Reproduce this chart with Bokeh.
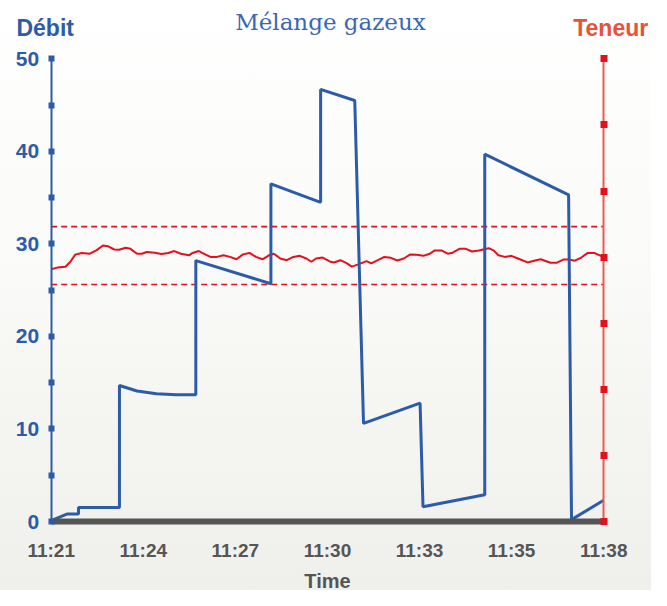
from bokeh.plotting import figure
from bokeh.models import (Range1d, LinearAxis, FixedTicker, Label,
                          CustomJSTickFormatter)
from bokeh.embed import file_html
from bokeh.resources import INLINE

# ---------------- data ----------------
tick_labels = ["11:21", "11:24", "11:27", "11:30", "11:33", "11:35", "11:38"]

# minutes since 11:21 and flow rate (Débit, left axis)
time_debit = [0, 0.48, 0.84, 0.84, 2.10, 2.10, 2.64, 3.24, 3.84, 4.45, 4.45,
              6.76, 6.76, 8.29, 8.29, 9.34, 9.61, 11.35, 11.44, 13.34, 13.34,
              15.92, 16.01, 17.0]
debit = [0.1, 0.8, 0.8, 1.5, 1.5, 14.7, 14.1, 13.8, 13.7, 13.7, 28.2,
         25.7, 36.5, 34.5, 46.7, 45.5, 10.6, 12.8, 1.6, 2.9, 39.7,
         35.3, 0.2, 2.3]

# minutes since 11:21 and content (Teneur, right axis)
time_teneur = [0, 0.19, 0.44, 0.59, 0.74, 0.94, 1.19, 1.39, 1.59, 1.74, 1.94,
               2.09, 2.29, 2.44, 2.64, 2.79, 2.94, 3.19, 3.39, 3.60, 3.79, 3.99,
               4.24, 4.35, 4.54, 4.75, 4.90, 5.10, 5.30, 5.50, 5.70, 5.90, 6.10,
               6.30, 6.50, 6.70, 6.85, 7.05, 7.25, 7.45, 7.65, 7.85, 8.00, 8.15,
               8.35, 8.60, 8.70, 8.90, 9.10, 9.25, 9.45, 9.70, 9.85, 10.05, 10.25,
               10.45, 10.65, 10.85, 11.05, 11.25, 11.45, 11.65, 11.80, 12.01,
               12.20, 12.35, 12.56, 12.76, 12.95, 13.16, 13.46, 13.61, 13.76,
               13.96, 14.16, 14.36, 14.66, 14.86, 15.06, 15.36, 15.56, 15.76,
               15.91, 16.11, 16.31, 16.51, 16.71, 16.91, 17.0]
teneur = [19.08, 19.21, 19.28, 19.65, 20.19, 20.32, 20.26, 20.51, 20.88, 20.83,
          20.58, 20.56, 20.71, 20.63, 20.26, 20.26, 20.39, 20.34, 20.24, 20.32,
          20.46, 20.26, 20.14, 20.32, 20.46, 20.19, 20.02, 20.02, 20.14, 20.02,
          19.84, 20.21, 20.32, 20.02, 19.84, 20.14, 20.26, 19.90, 19.77, 20.02,
          20.10, 19.90, 19.65, 19.90, 19.97, 19.65, 19.60, 19.77, 19.53, 19.28,
          19.45, 19.70, 19.53, 19.77, 20.02, 19.95, 19.75, 19.90, 20.21, 20.19,
          20.10, 20.26, 20.51, 20.51, 20.26, 20.34, 20.63, 20.63, 20.43, 20.51,
          20.68, 20.51, 20.14, 20.02, 20.10, 19.90, 19.60, 19.73, 19.84, 19.58,
          19.58, 19.82, 19.82, 19.73, 19.97, 20.32, 20.32, 20.10, 20.10]

teneur_limits = [22.31, 17.93]
debit_ticks = [0, 10, 20, 30, 40, 50]
debit_minor = [5, 15, 25, 35, 45]
teneur_ticks = [0, 5, 10, 15, 20, 25, 30, 35]

BLUE = "#2c5ca8"
RED = "#e3101e"
GREY = "#555555"

T0, T1 = time_debit[0], time_debit[-1]
D0, D1 = debit_ticks[0], debit_ticks[-1]
R0, R1 = teneur_ticks[0], teneur_ticks[-1]

# frame fills the whole canvas; axes are pinned inside it
W, H = 651, 590
left_px, right_px, top_px, bottom_px = 50.7, 603.2, 58.4, 521.0
xs = (right_px - left_px) / (T1 - T0)
ys = (bottom_px - top_px) / (D1 - D0)
rs = (bottom_px - top_px) / (R1 - R0)

p = figure(width=W, height=H, output_backend="svg", toolbar_location=None,
           title_location=None, x_axis_location=None, y_axis_location=None,
           x_range=Range1d(T0 - left_px / xs, T1 + (W - right_px) / xs),
           y_range=Range1d(D0 - (H - bottom_px) / ys, D1 + top_px / ys),
           min_border=0, min_border_left=0, min_border_right=0,
           min_border_top=0, min_border_bottom=0)
p.styles = {"background-image": "linear-gradient(to bottom, #ffffff 0%, #fafaf8 45%, #efefeb 100%)"}
p.border_fill_color = None
p.background_fill_color = None
p.outline_line_color = None
p.xgrid.visible = False
p.ygrid.visible = False
p.extra_y_ranges = {"right": Range1d(R0 - (H - bottom_px) / rs, R1 + top_px / rs)}

# x axis
n = len(tick_labels) - 1
xa = LinearAxis(fixed_location=D0, bounds=(T0, T1),
                ticker=FixedTicker(ticks=[T0 + (T1 - T0) * i / n for i in range(n + 1)]),
                formatter=CustomJSTickFormatter(
                    args=dict(labels=tick_labels, n=n, t0=T0, t1=T1),
                    code="return labels[Math.round((tick - t0) * n / (t1 - t0))]"))
xa.axis_line_color = GREY
xa.axis_line_width = 6
xa.major_tick_line_color = None
xa.minor_tick_line_color = None
xa.major_tick_out = 0
xa.major_tick_in = 0
xa.major_label_standoff = 18
xa.major_label_text_font = "Liberation Sans"
xa.major_label_text_font_style = "bold"
xa.major_label_text_font_size = "19px"
xa.major_label_text_color = GREY
xa.axis_label = "Time"
xa.axis_label_text_font = "Liberation Sans"
xa.axis_label_text_font_style = "bold"
xa.axis_label_text_font_size = "20px"
xa.axis_label_text_color = GREY
xa.axis_label_standoff = 6
p.add_layout(xa, "below")

# left axis
ya = LinearAxis(fixed_location=T0, bounds=(D0, D1),
                ticker=FixedTicker(ticks=debit_ticks, minor_ticks=debit_minor))
ya.axis_line_color = BLUE
ya.axis_line_width = 2
ya.major_tick_line_color = BLUE
ya.major_tick_line_width = 6
ya.major_tick_in = 3
ya.major_tick_out = 3
ya.minor_tick_line_color = BLUE
ya.minor_tick_line_width = 6
ya.minor_tick_in = 3
ya.minor_tick_out = 3
ya.major_label_standoff = 9
ya.major_label_text_font = "Liberation Sans"
ya.major_label_text_font_style = "bold"
ya.major_label_text_font_size = "21px"
ya.major_label_text_color = BLUE
p.add_layout(ya, "left")

# right axis
ra = LinearAxis(y_range_name="right", fixed_location=T1, bounds=(R0, R1),
                ticker=FixedTicker(ticks=teneur_ticks, minor_ticks=[]),
                formatter=CustomJSTickFormatter(code="return ''"))
ra.axis_line_color = "#ee5a4c"
ra.axis_line_width = 2
ra.major_tick_line_color = RED
ra.major_tick_line_width = 7
ra.major_tick_in = 3
ra.major_tick_out = 4
ra.minor_tick_line_color = None
ra.major_label_text_font_size = "1px"
ra.major_label_standoff = 0
p.add_layout(ra, "right")

# limit lines (dashed) between the two axes
p.segment(x0=[T0] * len(teneur_limits), x1=[T1] * len(teneur_limits),
          y0=teneur_limits, y1=teneur_limits, y_range_name="right",
          line_color=RED, line_width=1.6, line_dash="6 4")

# series
p.line(time_teneur, teneur, y_range_name="right", line_color=RED, line_width=2)
p.line(time_debit, debit, line_color=BLUE, line_width=3)

# texts at the top
p.add_layout(Label(x=T0, y=D1, x_offset=-6, y_offset=31, text="Débit",
                   text_align="center", text_baseline="middle",
                   text_font="Liberation Sans", text_font_style="bold",
                   text_font_size="23px", text_color=BLUE))
p.add_layout(Label(x=T1, y=D1, x_offset=7, y_offset=31, text="Teneur",
                   text_align="center", text_baseline="middle",
                   text_font="Liberation Sans", text_font_style="bold",
                   text_font_size="23px", text_color="#e8513a"))
p.add_layout(Label(x=(T0 + T1) / 2, y=D1, x_offset=3, y_offset=37,
                   text="Mélange gazeux",
                   text_align="center", text_baseline="middle",
                   text_font="DejaVu Serif", text_font_size="23px",
                   text_color="#3a68b2"))

open("out.html", "w").write(file_html(p, INLINE))
